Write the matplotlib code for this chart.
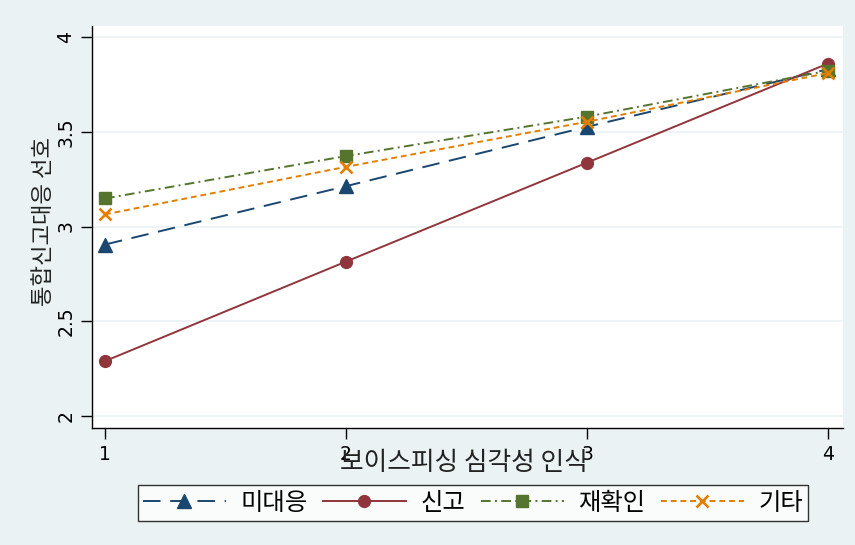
import matplotlib
matplotlib.use("Agg")
import matplotlib.pyplot as plt

plt.rcParams['font.family'] = ['Noto Sans CJK KR', 'DejaVu Sans']

# Perceived seriousness of voice phishing (x) vs. preference for integrated reporting (y)
x_levels = [1, 2, 3, 4]
series_names = ["미대응", "신고", "재확인", "기타"]
no_response = [2.905, 3.213, 3.526, 3.830]
report = [2.290, 2.815, 3.337, 3.860]
reconfirm = [3.148, 3.372, 3.580, 3.822]
other = [3.064, 3.315, 3.553, 3.810]

y_ticks = [2, 2.5, 3, 3.5, 4]
y_tick_labels = ["2", "2.5", "3", "3.5", "4"]
x_label = "보이스피싱 심각성 인식"
y_label = "통합신고대응 선호"

BG = "#EAF2F3"
W, H = 855, 545

fig = plt.figure(figsize=(W / 100, H / 100), dpi=100, facecolor=BG)
ax = fig.add_axes([92 / W, (H - 428) / H, (843 - 92) / W, (428 - 26) / H])
ax.set_facecolor("white")

styles = [
    dict(color="#1A476F", marker="^", ms=9.5, dashes=(9, 5), lw=1.4),
    dict(color="#90353B", marker="o", ms=8.5, linestyle="-", lw=1.4),
    dict(color="#55752F", marker="s", ms=8.5, dashes=(5, 2.2, 1, 2.2), lw=1.4),
    dict(color="#E37E00", marker="x", ms=8.5, mew=1.9, dashes=(3, 2), lw=1.4),
]
data = [no_response, report, reconfirm, other]

handles = []
for name, vals, st in zip(series_names, data, styles):
    st = dict(st)
    mew = st.pop("mew", 1.0)
    line, = ax.plot(x_levels, vals, label=name, mew=mew, **st)
    handles.append(line)

ax.set_xlim(0.946, 4.062)
ax.set_ylim(1.937, 4.058)
ax.set_xticks(x_levels)
ax.set_xticklabels([str(v) for v in x_levels], fontsize=13.5, family="DejaVu Sans")
ax.set_yticks(y_ticks)
ax.set_yticklabels(y_tick_labels, fontsize=13.5, rotation=90, va="center",
                   family="DejaVu Sans")
ax.grid(axis="y", color=BG, lw=1.2)
ax.set_axisbelow(True)
for side in ("top", "right"):
    ax.spines[side].set_visible(False)
for side in ("left", "bottom"):
    ax.spines[side].set_color("black")
    ax.spines[side].set_linewidth(1.0)
ax.tick_params(axis="both", length=8, width=1.0, color="black", pad=4)

fig.text(464 / W, 1 - 463 / H, x_label, ha="center", va="center", fontsize=18.5,
         color="#222222")
fig.text(43 / W, 1 - 222 / H, y_label, ha="center", va="center", fontsize=16,
         rotation=90, color="#222222")

leg = fig.legend(handles=handles, labels=series_names, loc="center",
                 bbox_to_anchor=(473 / W, 1 - 503 / H), ncol=4, frameon=True,
                 fontsize=17.5, handlelength=3.4, handletextpad=0.6,
                 columnspacing=0.65, borderpad=0.2, fancybox=False)
leg.get_frame().set_edgecolor("black")
leg.get_frame().set_linewidth(1.0)
leg.get_frame().set_facecolor("white")

fig.savefig("out.png", dpi=100, facecolor=BG)
